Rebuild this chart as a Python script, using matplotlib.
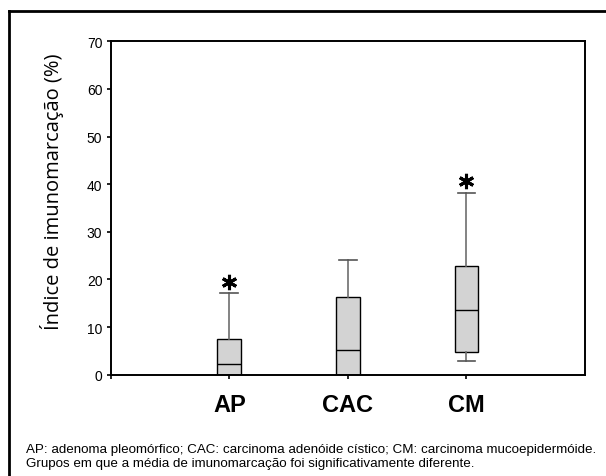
import matplotlib
matplotlib.use("Agg")
import matplotlib.pyplot as plt
from matplotlib.lines import Line2D

# Box plot summaries (% immunostaining)
groups = ["AP", "CAC", "CM"]
whislo = [0.0, 0.0, 2.9]
q1 = [0.0, 0.0, 4.8]
med = [2.3, 5.2, 13.6]
q3 = [7.4, 16.3, 22.8]
whishi = [17.1, 24.1, 38.2]
significant = [True, False, True]

yticks = [0, 10, 20, 30, 40, 50, 60, 70]
caption1 = "AP: adenoma pleomórfico; CAC: carcinoma adenóide cístico; CM: carcinoma mucoepidermóide."
caption2 = "Grupos em que a média de imunomarcação foi significativamente diferente."

sans = ["Liberation Sans", "DejaVu Sans"]

fig = plt.figure(figsize=(6.06, 4.77), dpi=100)
ax = fig.add_axes([0.1827, 0.2124, 0.7827, 0.6989])

stats = []
for i, g in enumerate(groups):
    stats.append(dict(label=g, whislo=whislo[i], q1=q1[i], med=med[i],
                      q3=q3[i], whishi=whishi[i], fliers=[]))

positions = [1, 2, 3]
ax.bxp(stats, positions=positions, widths=0.2, capwidths=0.15,
       patch_artist=True, showfliers=False,
       boxprops=dict(facecolor="#d3d3d3", edgecolor="black", linewidth=1.0),
       medianprops=dict(color="black", linewidth=1.0),
       whiskerprops=dict(color="#6e6e6e", linewidth=1.2),
       capprops=dict(color="#555555", linewidth=1.2))

# asterisks above the significant groups
for p, hi, s in zip(positions, whishi, significant):
    if s:
        ax.plot(p, hi + 2.4, marker=(6, 2, 0), markersize=11,
                markeredgewidth=2.2, color="black", zorder=5)

ax.set_xlim(0, 4)
ax.set_ylim(0, 70)
ax.set_yticks(yticks)
ax.set_yticklabels([str(t) for t in yticks], family=sans, fontsize=10)
ax.set_xticks([0] + positions)
ax.set_xticklabels([""] + groups, family=sans, fontsize=17, fontweight="bold")
ax.tick_params(axis="both", direction="out", length=3, width=1.2, color="black")
ax.tick_params(axis="x", pad=10)
ax.tick_params(axis="y", pad=3)
for sp in ax.spines.values():
    sp.set_linewidth(1.4)

fig.text(52 / 606, 1 - 192 / 477, "Índice de imunomarcação (%)", rotation=90,
         ha="center", va="center", fontsize=14.5, family=["Open Sans", "DejaVu Sans"])

fig.text(25.7 / 606, 1 - 453 / 477, caption1, ha="left", va="baseline",
         fontsize=9.6, family=sans)
fig.text(25.7 / 606, 1 - 467.5 / 477, caption2, ha="left", va="baseline",
         fontsize=9.6, family=sans)

# outer frame (top and left edges only)
fig.add_artist(Line2D([9 / 606, 1], [1 - 12 / 477, 1 - 12 / 477],
                      transform=fig.transFigure, color="black", linewidth=2))
fig.add_artist(Line2D([9 / 606, 9 / 606], [0, 1 - 12 / 477],
                      transform=fig.transFigure, color="black", linewidth=2))

fig.savefig("out.png", dpi=100)
